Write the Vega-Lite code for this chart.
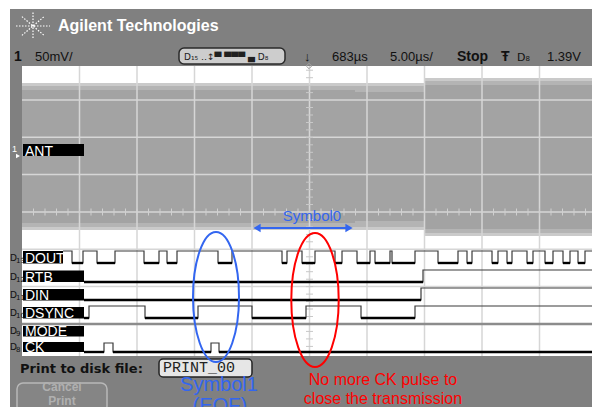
{
  "$schema": "https://vega.github.io/schema/vega-lite/v6.json",
  "width": 592,
  "height": 407,
  "autosize": "none",
  "padding": 0,
  "background": "white",
  "config": {"view": {"stroke": null}, "text": {"font": "Liberation Sans"}},
  "datasets": {
    "dig": [
      {"s": "DOUT", "x": 63, "y": 251},
      {"s": "DOUT", "x": 72, "y": 263, "l": 1},
      {"s": "DOUT", "x": 83, "y": 251},
      {"s": "DOUT", "x": 97, "y": 263, "l": 1},
      {"s": "DOUT", "x": 115, "y": 251},
      {"s": "DOUT", "x": 144, "y": 263, "l": 1},
      {"s": "DOUT", "x": 159, "y": 251},
      {"s": "DOUT", "x": 167, "y": 263, "l": 1},
      {"s": "DOUT", "x": 177, "y": 251},
      {"s": "DOUT", "x": 218, "y": 263, "l": 1},
      {"s": "DOUT", "x": 232, "y": 251},
      {"s": "DOUT", "x": 282, "y": 263, "l": 1},
      {"s": "DOUT", "x": 287, "y": 251},
      {"s": "DOUT", "x": 302, "y": 263, "l": 1},
      {"s": "DOUT", "x": 315, "y": 251},
      {"s": "DOUT", "x": 335, "y": 263, "l": 1},
      {"s": "DOUT", "x": 342, "y": 251},
      {"s": "DOUT", "x": 357, "y": 263, "l": 1},
      {"s": "DOUT", "x": 370, "y": 251},
      {"s": "DOUT", "x": 375, "y": 263, "l": 1},
      {"s": "DOUT", "x": 390, "y": 251},
      {"s": "DOUT", "x": 392, "y": 263, "l": 1},
      {"s": "DOUT", "x": 415, "y": 251},
      {"s": "DOUT", "x": 438, "y": 263, "l": 1},
      {"s": "DOUT", "x": 458, "y": 251},
      {"s": "DOUT", "x": 467, "y": 263, "l": 1},
      {"s": "DOUT", "x": 472, "y": 251},
      {"s": "DOUT", "x": 492, "y": 263, "l": 1},
      {"s": "DOUT", "x": 498, "y": 251},
      {"s": "DOUT", "x": 507, "y": 263, "l": 1},
      {"s": "DOUT", "x": 512, "y": 251},
      {"s": "DOUT", "x": 527, "y": 263, "l": 1},
      {"s": "DOUT", "x": 533, "y": 251},
      {"s": "DOUT", "x": 545, "y": 263, "l": 1},
      {"s": "DOUT", "x": 553, "y": 251},
      {"s": "DOUT", "x": 563, "y": 263, "l": 1},
      {"s": "DOUT", "x": 570, "y": 251},
      {"s": "DOUT", "x": 578, "y": 263, "l": 1},
      {"s": "DOUT", "x": 585, "y": 251},
      {"s": "DOUT", "x": 592, "y": 251},
      {"s": "RTB", "x": 84, "y": 282, "l": 1},
      {"s": "RTB", "x": 423, "y": 270},
      {"s": "RTB", "x": 592, "y": 270},
      {"s": "DIN", "x": 84, "y": 300, "l": 1},
      {"s": "DIN", "x": 421, "y": 288},
      {"s": "DIN", "x": 592, "y": 288},
      {"s": "DSYNC", "x": 84, "y": 318, "l": 1},
      {"s": "DSYNC", "x": 89, "y": 306},
      {"s": "DSYNC", "x": 145, "y": 318, "l": 1},
      {"s": "DSYNC", "x": 198, "y": 306},
      {"s": "DSYNC", "x": 252, "y": 318, "l": 1},
      {"s": "DSYNC", "x": 306, "y": 306},
      {"s": "DSYNC", "x": 361, "y": 318, "l": 1},
      {"s": "DSYNC", "x": 415, "y": 306},
      {"s": "DSYNC", "x": 592, "y": 306},
      {"s": "CK", "x": 84, "y": 352, "l": 1},
      {"s": "CK", "x": 104, "y": 343},
      {"s": "CK", "x": 113, "y": 352, "l": 1},
      {"s": "CK", "x": 211, "y": 343},
      {"s": "CK", "x": 219, "y": 352, "l": 1},
      {"s": "CK", "x": 592, "y": 352, "l": 1}
    ]
  },
  "encoding": {
    "x": {"field": "x", "type": "quantitative", "scale": {"domain": [0, 592], "nice": false, "zero": false}, "axis": null},
    "y": {"field": "y", "type": "quantitative", "scale": {"domain": [0, 407], "reverse": true, "nice": false, "zero": false}, "axis": null}
  },
  "layer": [
    {
      "data": {"values": [{"x": 10, "x2": 592, "y": 9, "y2": 407}]},
      "mark": {"type": "rect", "color": "#808080"},
      "encoding": {"x2": {"field": "x2"}, "y2": {"field": "y2"}}
    },
    {
      "data": {"values": [{"x": 22, "x2": 592, "y": 66, "y2": 356}]},
      "mark": {"type": "rect", "color": "#ffffff"},
      "encoding": {"x2": {"field": "x2"}, "y2": {"field": "y2"}}
    },
    {
      "data": {"values": [{"x": 22, "x2": 424, "y": 83, "y2": 230}, {"x": 424, "x2": 592, "y": 78, "y2": 236}]},
      "mark": {"type": "rect", "color": "#cacaca"},
      "encoding": {"x2": {"field": "x2"}, "y2": {"field": "y2"}}
    },
    {
      "data": {"values": [{"x": 22, "x2": 424, "y": 86, "y2": 227}, {"x": 424, "x2": 592, "y": 81, "y2": 233}]},
      "mark": {"type": "rect", "color": "#b4b4b4"},
      "encoding": {"x2": {"field": "x2"}, "y2": {"field": "y2"}}
    },
    {
      "data": {"values": [{"x": 22, "x2": 355, "y": 90, "y2": 223}, {"x": 355, "x2": 424, "y": 92, "y2": 221}, {"x": 424, "x2": 592, "y": 85, "y2": 229}]},
      "mark": {"type": "rect", "color": "#a3a3a3"},
      "encoding": {"x2": {"field": "x2"}, "y2": {"field": "y2"}}
    },
    {
      "data": {"values": [{"x": 79.5, "y": 66, "y2": 356}, {"x": 137, "y": 66, "y2": 356}, {"x": 194.5, "y": 66, "y2": 356}, {"x": 252, "y": 66, "y2": 356}, {"x": 309.5, "y": 66, "y2": 356}, {"x": 367, "y": 66, "y2": 356}, {"x": 424.5, "y": 66, "y2": 356}, {"x": 482, "y": 66, "y2": 356}, {"x": 539.5, "y": 66, "y2": 356}]},
      "mark": {"type": "rule", "color": "#d6d6d6", "strokeWidth": 1.5},
      "encoding": {"y2": {"field": "y2"}}
    },
    {
      "data": {"values": [{"y": 100, "x": 22, "x2": 592}, {"y": 137.3, "x": 22, "x2": 592}, {"y": 174.6, "x": 22, "x2": 592}, {"y": 212, "x": 22, "x2": 592}, {"y": 249.3, "x": 22, "x2": 592}, {"y": 286.6, "x": 22, "x2": 592}]},
      "mark": {"type": "rule", "color": "#d6d6d6", "strokeWidth": 1.5},
      "encoding": {"x2": {"field": "x2"}}
    },
    {
      "data": {"values": [
        {"x": 33.5, "y": 212}, {"x": 45, "y": 212}, {"x": 56.5, "y": 212}, {"x": 68, "y": 212}, {"x": 79.5, "y": 212},
        {"x": 91, "y": 212}, {"x": 102.5, "y": 212}, {"x": 114, "y": 212}, {"x": 125.5, "y": 212}, {"x": 137, "y": 212},
        {"x": 148.5, "y": 212}, {"x": 160, "y": 212}, {"x": 171.5, "y": 212}, {"x": 183, "y": 212}, {"x": 194.5, "y": 212},
        {"x": 206, "y": 212}, {"x": 217.5, "y": 212}, {"x": 229, "y": 212}, {"x": 240.5, "y": 212}, {"x": 252, "y": 212},
        {"x": 263.5, "y": 212}, {"x": 275, "y": 212}, {"x": 286.5, "y": 212}, {"x": 298, "y": 212}, {"x": 309.5, "y": 212},
        {"x": 321, "y": 212}, {"x": 332.5, "y": 212}, {"x": 344, "y": 212}, {"x": 355.5, "y": 212}, {"x": 367, "y": 212},
        {"x": 378.5, "y": 212}, {"x": 390, "y": 212}, {"x": 401.5, "y": 212}, {"x": 413, "y": 212}, {"x": 424.5, "y": 212},
        {"x": 436, "y": 212}, {"x": 447.5, "y": 212}, {"x": 459, "y": 212}, {"x": 470.5, "y": 212}, {"x": 482, "y": 212},
        {"x": 493.5, "y": 212}, {"x": 505, "y": 212}, {"x": 516.5, "y": 212}, {"x": 528, "y": 212}, {"x": 539.5, "y": 212},
        {"x": 551, "y": 212}, {"x": 562.5, "y": 212}, {"x": 574, "y": 212}, {"x": 585.5, "y": 212}
      ]},
      "mark": {"type": "tick", "orient": "vertical", "size": 7, "thickness": 1, "color": "#d0d0d0", "opacity": 1}
    },
    {
      "data": {"values": [
        {"x": 309.5, "y": 70.2}, {"x": 309.5, "y": 77.7}, {"x": 309.5, "y": 85.2}, {"x": 309.5, "y": 92.6}, {"x": 309.5, "y": 100.1},
        {"x": 309.5, "y": 107.5}, {"x": 309.5, "y": 115}, {"x": 309.5, "y": 122.5}, {"x": 309.5, "y": 129.9}, {"x": 309.5, "y": 137.4},
        {"x": 309.5, "y": 144.8}, {"x": 309.5, "y": 152.3}, {"x": 309.5, "y": 159.8}, {"x": 309.5, "y": 167.2}, {"x": 309.5, "y": 174.7},
        {"x": 309.5, "y": 182.2}, {"x": 309.5, "y": 189.6}, {"x": 309.5, "y": 197.1}, {"x": 309.5, "y": 204.5}, {"x": 309.5, "y": 219.5},
        {"x": 309.5, "y": 226.9}, {"x": 309.5, "y": 234.4}, {"x": 309.5, "y": 241.8}, {"x": 309.5, "y": 249.3}, {"x": 309.5, "y": 256.8},
        {"x": 309.5, "y": 264.2}, {"x": 309.5, "y": 271.7}, {"x": 309.5, "y": 279.2}, {"x": 309.5, "y": 286.6}, {"x": 309.5, "y": 294.1},
        {"x": 309.5, "y": 301.5}, {"x": 309.5, "y": 309}, {"x": 309.5, "y": 316.5}, {"x": 309.5, "y": 324}, {"x": 309.5, "y": 331.4},
        {"x": 309.5, "y": 338.9}, {"x": 309.5, "y": 346.4}
      ]},
      "mark": {"type": "tick", "orient": "horizontal", "size": 7, "thickness": 1, "color": "#c8c8c8", "opacity": 1}
    },
    {
      "data": {"values": [{"x": 22, "x2": 592, "y": 324}]},
      "mark": {"type": "rule", "color": "#8c8c8c", "strokeWidth": 2.5},
      "encoding": {"x2": {"field": "x2"}}
    },
    {
      "data": {"name": "dig"},
      "mark": {"type": "line", "interpolate": "step-after", "color": "#3a3a3a", "strokeWidth": 1.2},
      "encoding": {"detail": {"field": "s"}}
    },
    {
      "data": {"name": "dig"},
      "transform": [
        {"window": [{"op": "lead", "field": "x", "as": "x2"}], "groupby": ["s"], "sort": [{"field": "x"}]},
        {"filter": "datum.l == 1 && isValid(datum.x2)"}
      ],
      "mark": {"type": "rule", "color": "#000000", "strokeWidth": 2.4},
      "encoding": {"x2": {"field": "x2"}}
    },
    {
      "data": {"values": [
        {"x": 23, "x2": 84, "y": 144, "y2": 156},
        {"x": 23, "x2": 63, "y": 251, "y2": 263.5},
        {"x": 23, "x2": 84, "y": 270.5, "y2": 282},
        {"x": 23, "x2": 84, "y": 289, "y2": 300.5},
        {"x": 23, "x2": 84, "y": 307, "y2": 318.5},
        {"x": 23, "x2": 84, "y": 326, "y2": 336.5},
        {"x": 23, "x2": 84, "y": 342, "y2": 352}
      ]},
      "mark": {"type": "rect", "color": "#000000"},
      "encoding": {"x2": {"field": "x2"}, "y2": {"field": "y2"}}
    },
    {
      "data": {"values": [
        {"t": "ANT", "x": 25, "y": 155.5},
        {"t": "DOUT", "x": 25, "y": 262.5},
        {"t": "RTB", "x": 25, "y": 281.5},
        {"t": "DIN", "x": 25, "y": 299.5},
        {"t": "DSYNC", "x": 25, "y": 317.5},
        {"t": "MODE", "x": 25, "y": 335.5},
        {"t": "CK", "x": 25, "y": 351.5}
      ]},
      "mark": {"type": "text", "align": "left", "baseline": "alphabetic", "fontSize": 14, "color": "#ffffff"},
      "encoding": {"text": {"field": "t"}}
    },
    {
      "data": {"values": [
        {"t": "D", "n": "13", "x": 10, "y": 261},
        {"t": "D", "n": "12", "x": 10, "y": 280},
        {"t": "D", "n": "11", "x": 10, "y": 298},
        {"t": "D", "n": "10", "x": 10, "y": 316},
        {"t": "D", "n": "9", "x": 10, "y": 334},
        {"t": "D", "n": "8", "x": 10, "y": 350}
      ]},
      "layer": [
        {"mark": {"type": "text", "align": "left", "baseline": "alphabetic", "fontSize": 9, "font": "DejaVu Sans", "color": "#111111"}, "encoding": {"text": {"field": "t"}}},
        {"mark": {"type": "text", "align": "left", "baseline": "alphabetic", "fontSize": 7, "font": "DejaVu Sans", "dx": 6, "dy": 2, "color": "#111111"}, "encoding": {"text": {"field": "n"}}}
      ]
    },
    {
      "data": {"values": [{"t": "1", "x": 12, "y": 152}]},
      "mark": {"type": "text", "align": "left", "baseline": "alphabetic", "fontSize": 9, "color": "#ffffff"},
      "encoding": {"text": {"field": "t"}}
    },
    {
      "data": {"values": [{"x": 18, "y": 156}]},
      "mark": {"type": "point", "shape": "triangle-right", "filled": true, "color": "#ffffff", "size": 22, "opacity": 1}
    },
    {
      "data": {"values": [{"t": "Agilent Technologies", "x": 58, "y": 31}]},
      "mark": {"type": "text", "align": "left", "baseline": "alphabetic", "fontSize": 16, "fontWeight": "bold", "color": "#ffffff"},
      "encoding": {"text": {"field": "t"}}
    },
    {
      "data": {"values": [{"x": 33, "y": 26}]},
      "mark": {"type": "point", "shape": "M-1,0L1,0M0,-0.8L0,0.8M-0.65,-0.55L0.65,0.55M-0.65,0.55L0.65,-0.55", "filled": false, "stroke": "#ffffff", "strokeWidth": 1.2, "strokeDash": [1.5, 1.5], "size": 1156, "opacity": 1}
    },
    {
      "data": {"values": [{"t": "1", "x": 14, "y": 61}, {"t": "Stop", "x": 457, "y": 61}, {"t": "Ŧ", "x": 501, "y": 61}]},
      "mark": {"type": "text", "align": "left", "baseline": "alphabetic", "fontSize": 14, "fontWeight": "bold", "color": "#111111"},
      "encoding": {"text": {"field": "t"}}
    },
    {
      "data": {"values": [{"t": "50mV/", "x": 35, "y": 61}, {"t": "683µs", "x": 332, "y": 61}, {"t": "5.00µs/", "x": 390, "y": 61}, {"t": "1.39V", "x": 547, "y": 61}, {"t": "↓", "x": 304, "y": 61}]},
      "mark": {"type": "text", "align": "left", "baseline": "alphabetic", "fontSize": 13, "color": "#111111"},
      "encoding": {"text": {"field": "t"}}
    },
    {
      "data": {"values": [{"t": "D₈", "x": 517, "y": 61}]},
      "mark": {"type": "text", "align": "left", "baseline": "alphabetic", "fontSize": 11, "font": "DejaVu Sans", "color": "#111111"},
      "encoding": {"text": {"field": "t"}}
    },
    {
      "data": {"values": [{"x": 309, "y": 66}]},
      "mark": {"type": "point", "shape": "diamond", "filled": false, "stroke": "#a0a0a0", "strokeWidth": 1, "size": 30, "opacity": 1}
    },
    {
      "data": {"values": [{"x": 179, "x2": 285, "y": 48, "y2": 64}]},
      "mark": {"type": "rect", "fill": "#cdcdcd", "stroke": "#2a2a2a", "strokeWidth": 1.5, "cornerRadius": 5},
      "encoding": {"x2": {"field": "x2"}, "y2": {"field": "y2"}}
    },
    {
      "data": {"values": [{"t": "D₁₅ ‥↕▀ ▀▀▀ ▄ D₈", "x": 184, "y": 60}]},
      "mark": {"type": "text", "align": "left", "baseline": "alphabetic", "fontSize": 9, "font": "DejaVu Sans", "color": "#202020"},
      "encoding": {"text": {"field": "t"}}
    },
    {
      "data": {"values": [{"t": "Print to disk file:", "x": 20, "y": 373}]},
      "mark": {"type": "text", "align": "left", "baseline": "alphabetic", "fontSize": 13, "font": "DejaVu Sans", "fontWeight": "bold", "color": "#111111"},
      "encoding": {"text": {"field": "t"}}
    },
    {
      "data": {"values": [{"x": 159, "x2": 252, "y": 359, "y2": 377}]},
      "mark": {"type": "rect", "fill": "#e6e6e6", "stroke": "#222222", "strokeWidth": 1.5, "cornerRadius": 4},
      "encoding": {"x2": {"field": "x2"}, "y2": {"field": "y2"}}
    },
    {
      "data": {"values": [{"t": "PRINT_00", "x": 163, "y": 372}]},
      "mark": {"type": "text", "align": "left", "baseline": "alphabetic", "fontSize": 15, "font": "Liberation Mono", "color": "#222222"},
      "encoding": {"text": {"field": "t"}}
    },
    {
      "data": {"values": [{"x": 17, "x2": 107, "y": 383, "y2": 412}]},
      "mark": {"type": "rect", "fill": "#858585", "stroke": "#b8b8b8", "strokeWidth": 1.5, "cornerRadius": 6},
      "encoding": {"x2": {"field": "x2"}, "y2": {"field": "y2"}}
    },
    {
      "data": {"values": [{"t": "Cancel", "x": 62, "y": 391}, {"t": "Print", "x": 62, "y": 405}]},
      "mark": {"type": "text", "align": "center", "baseline": "alphabetic", "fontSize": 12, "fontWeight": "bold", "color": "#b0b0b0"},
      "encoding": {"text": {"field": "t"}}
    },
    {
      "data": {"values": [{"x": 258, "x2": 348, "y": 228}]},
      "mark": {"type": "rule", "color": "#3366f0", "strokeWidth": 2},
      "encoding": {"x2": {"field": "x2"}}
    },
    {
      "data": {"values": [{"x": 257, "y": 228, "d": "l"}]},
      "mark": {"type": "point", "shape": "triangle-left", "filled": true, "color": "#3366f0", "size": 70, "opacity": 1}
    },
    {
      "data": {"values": [{"x": 349, "y": 228, "d": "r"}]},
      "mark": {"type": "point", "shape": "triangle-right", "filled": true, "color": "#3366f0", "size": 70, "opacity": 1}
    },
    {
      "data": {"values": [{"t": "Symbol0", "x": 312, "y": 221}]},
      "mark": {"type": "text", "align": "center", "baseline": "alphabetic", "fontSize": 15, "color": "#3366f0"},
      "encoding": {"text": {"field": "t"}}
    },
    {
      "data": {"values": [{"x": 216, "y": 297}]},
      "mark": {"type": "point", "shape": "M0,-1C0.1955,-1 0.354,-0.5523 0.354,0C0.354,0.5523 0.1955,1 0,1C-0.1955,1 -0.354,0.5523 -0.354,0C-0.354,-0.5523 -0.1955,-1 0,-1Z", "filled": false, "stroke": "#3366f0", "strokeWidth": 2, "size": 16900, "opacity": 1}
    },
    {
      "data": {"values": [{"x": 315, "y": 300}]},
      "mark": {"type": "point", "shape": "M0,-1C0.1955,-1 0.354,-0.5523 0.354,0C0.354,0.5523 0.1955,1 0,1C-0.1955,1 -0.354,0.5523 -0.354,0C-0.354,-0.5523 -0.1955,-1 0,-1Z", "filled": false, "stroke": "#ff0000", "strokeWidth": 2, "size": 17956, "opacity": 1}
    },
    {
      "data": {"values": [{"t": "Symbol1", "x": 219, "y": 391}, {"t": "(EOF)", "x": 220, "y": 412}]},
      "mark": {"type": "text", "align": "center", "baseline": "alphabetic", "fontSize": 20, "color": "#3366f0"},
      "encoding": {"text": {"field": "t"}}
    },
    {
      "data": {"values": [{"t": "No more CK pulse to", "x": 383, "y": 385}, {"t": "close the transmission", "x": 383, "y": 404}]},
      "mark": {"type": "text", "align": "center", "baseline": "alphabetic", "fontSize": 16, "color": "#ff0000"},
      "encoding": {"text": {"field": "t"}}
    }
  ]
}
